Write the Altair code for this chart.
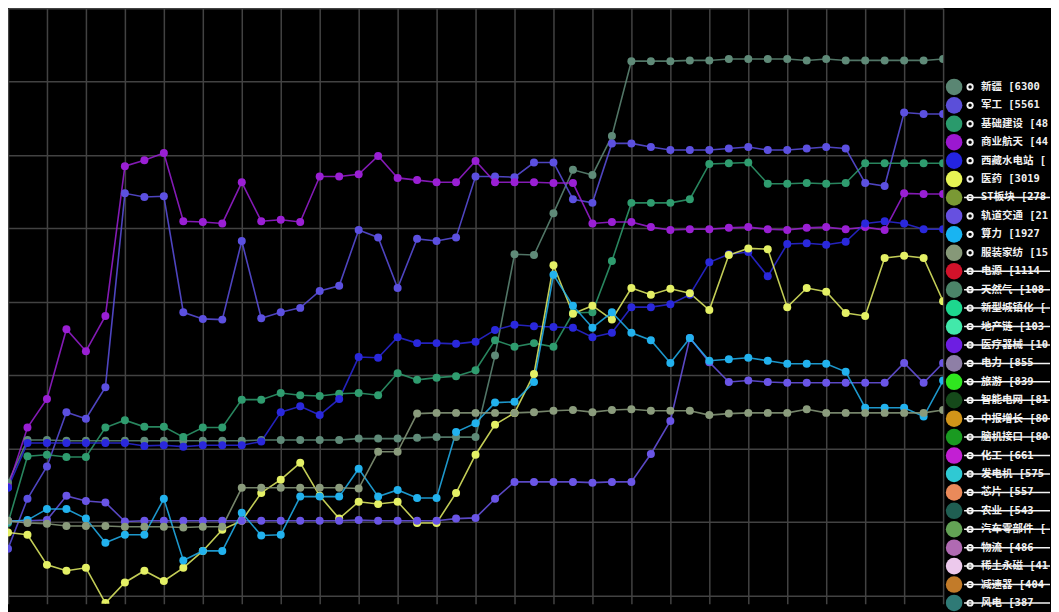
import altair as alt
import pandas as pd

days = list(range(49))

xinjiang = [25.4, 31.2, 31.2, 31.1, 31.1, 31.1, 31.1, 31.1, 31.1, 31.1, 31.1, 31.1, 31.1,
            31.2, 31.2, 31.2, 31.2, 31.2, 31.4, 31.4, 31.4, 31.5, 31.6, 31.6, 31.6, 42.7,
            56.5, 56.4, 62.1, 68.0, 67.3, 72.6, 82.8, 82.8, 82.8, 82.9, 82.9, 83.1, 83.1,
            83.1, 83.1, 82.9, 83.1, 82.9, 82.9, 82.9, 82.9, 82.9, 83.1]
jungong = [16.4, 23.2, 27.6, 35.0, 34.1, 38.4, 64.8, 64.3, 64.4, 48.6, 47.7, 47.6, 58.3,
           47.8, 48.6, 49.2, 51.5, 52.2, 59.8, 58.8, 51.9, 58.6, 58.3, 58.8, 67.1, 67.1,
           67.0, 69.0, 69.0, 64.0, 63.5, 71.6, 71.6, 71.1, 70.7, 70.7, 70.7, 70.9, 71.1,
           70.7, 70.7, 70.9, 71.1, 70.9, 66.2, 65.8, 75.8, 75.6, 75.6]
jichu = [19.9, 29.0, 29.2, 28.9, 28.9, 32.9, 33.9, 33.0, 33.0, 31.6, 32.9, 32.9, 36.7,
         36.7, 37.6, 37.3, 37.2, 37.5, 37.6, 37.3, 40.3, 39.4, 39.7, 39.9, 40.7, 44.8,
         43.9, 44.4, 43.9, 48.5, 48.6, 55.6, 63.5, 63.5, 63.5, 64.0, 68.8, 68.9, 69.0,
         66.1, 66.1, 66.2, 66.1, 66.2, 68.9, 68.9, 68.9, 68.9, 68.9]
hangtian = [24.8, 32.9, 36.8, 46.3, 43.3, 48.1, 68.5, 69.3, 70.3, 61.0, 60.9, 60.7, 66.3,
            61.0, 61.2, 60.9, 67.1, 67.1, 67.4, 69.9, 66.9, 66.6, 66.3, 66.3, 69.2, 66.3,
            66.3, 66.3, 66.2, 66.2, 60.7, 60.9, 60.9, 60.2, 59.8, 59.9, 59.9, 60.1, 60.2,
            59.9, 59.8, 60.1, 60.2, 59.9, 60.2, 59.8, 64.8, 64.7, 64.7]
xizang = [24.7, 30.8, 30.8, 30.8, 30.8, 30.8, 30.8, 30.4, 30.5, 30.3, 30.5, 30.5, 30.5,
          31.0, 35.0, 35.8, 34.6, 36.8, 42.5, 42.4, 45.2, 44.4, 44.4, 44.3, 44.6, 46.2,
          46.9, 46.7, 46.6, 46.5, 45.2, 45.8, 49.3, 49.3, 49.7, 51.0, 55.4, 56.5, 56.8,
          53.5, 57.9, 58.0, 57.8, 58.2, 60.7, 61.0, 60.7, 59.9, 59.9]
yiyao = [18.6, 18.3, 14.2, 13.4, 13.8, 9.0, 11.8, 13.4, 12.0, 13.8, 16.1, 19.0, 20.2,
         24.0, 25.8, 28.1, 23.6, 20.5, 22.8, 22.5, 22.8, 19.9, 19.9, 24.0, 29.2, 33.3,
         34.9, 40.2, 55.0, 48.4, 49.5, 47.6, 51.9, 51.0, 51.8, 51.2, 48.9, 56.4, 57.3,
         57.2, 49.3, 51.9, 51.4, 48.5, 48.1, 56.0, 56.3, 56.0, 50.1]
guidao = [20.2, 20.2, 20.3, 23.6, 22.9, 22.7, 20.1, 20.2, 20.2, 20.2, 20.2, 20.2, 20.2,
          20.2, 20.2, 20.2, 20.2, 20.2, 20.3, 20.2, 20.2, 20.2, 20.2, 20.5, 20.6, 23.2,
          25.5, 25.5, 25.5, 25.5, 25.4, 25.5, 25.5, 29.3, 33.8, 45.1, 41.8, 39.1, 39.3,
          39.1, 39.0, 39.0, 39.0, 39.0, 39.0, 39.0, 41.7, 39.0, 41.7]
suanli = [20.1, 20.3, 21.8, 21.8, 20.5, 17.2, 18.3, 18.3, 23.2, 14.8, 16.1, 16.1, 21.3,
          18.2, 18.3, 23.5, 23.5, 23.5, 27.3, 23.5, 24.4, 23.3, 23.3, 32.3, 33.5, 36.3,
          36.4, 39.1, 53.7, 49.5, 46.5, 48.6, 45.8, 44.8, 41.7, 45.1, 42.0, 42.2, 42.4,
          42.0, 41.6, 41.6, 41.6, 40.5, 35.6, 35.6, 35.6, 34.4, 39.3]
fuzhuang = [20.2, 19.9, 19.8, 19.5, 19.5, 19.5, 19.4, 19.4, 19.4, 19.3, 19.4, 19.4, 24.7,
            24.7, 24.7, 24.7, 24.7, 24.7, 24.6, 29.6, 29.6, 34.8, 34.9, 34.9, 34.9, 34.9,
            34.9, 35.0, 35.2, 35.3, 35.0, 35.3, 35.4, 35.2, 35.2, 35.2, 34.6, 34.8, 34.9,
            34.9, 34.9, 35.4, 34.9, 34.9, 34.9, 34.9, 34.9, 34.9, 35.3]

series_names = ["新疆", "军工", "基础建设", "商业航天", "西藏水电站", "医药", "轨道交通", "算力", "服装家纺"]
series_values = [xinjiang, jungong, jichu, hangtian, xizang, yiyao, guidao, suanli, fuzhuang]
series_colors = ["#5f8a78", "#5c50e0", "#2f9c6f", "#9a1fd4", "#2a28dc", "#e4f065", "#6a55e6", "#22b2ee", "#8a9b7c"]

legend_names = ["新疆", "军工", "基础建设", "商业航天", "西藏水电站", "医药", "ST板块", "轨道交通", "算力",
                "服装家纺", "电源", "天然气", "新型城镇化", "地产链", "医疗器械", "电力", "旅游", "智能电网",
                "中报增长", "脑机接口", "化工", "发电机", "芯片", "农业", "汽车零部件", "物流", "稀土永磁",
                "减速器", "风电"]
legend_counts = [6300, 5561, 4887, 4465, 3952, 3019, 2787, 2159, 1927, 1525, 1114, 1085, 1062,
                 1039, 1024, 855, 839, 816, 809, 806, 661, 575, 557, 543, 512, 486, 418, 404, 387]
legend_colors = ["#5a8673", "#5b4fd9", "#2a9a6c", "#9b18d0", "#2424e0", "#e6f454", "#7a9934",
                 "#6650e0", "#18b4f2", "#869878", "#d2122a", "#4b8468", "#1dd78e", "#42e8aa",
                 "#6d1ee2", "#8e7fa6", "#2fe61f", "#15491a", "#d19419", "#1a9a21", "#c21fd3",
                 "#2fc9d3", "#ea8a5a", "#1f5e52", "#63a255", "#b06ab2", "#ecc9ec", "#c27b29",
                 "#2f7a76"]
legend_hidden = [False] * 6 + [True] + [False] * 3 + [True] * 19

rows = []
for name, vals in zip(series_names, series_values):
    assert len(vals) == len(days), name
    for d, v in zip(days, vals):
        rows.append({"day": d, "value": v, "sector": name})
df = pd.DataFrame(rows)

leg = pd.DataFrame({
    "order": list(range(len(legend_names))),
    "label": [f"{n} [{c} 涨停]" for n, c in zip(legend_names, legend_counts)],
    "color": legend_colors,
    "hidden": legend_hidden,
})

x = alt.X("day:Q", scale=alt.Scale(domain=[0, 48], nice=False, zero=False),
          axis=alt.Axis(values=list(range(0, 49, 2)), labels=False, ticks=False, domain=False,
                        title=None, grid=True, minExtent=0, maxExtent=0))
y = alt.Y("value:Q", scale=alt.Scale(domain=[8.91, 90], nice=False, zero=False),
          axis=alt.Axis(values=list(range(10, 91, 10)), labels=False, ticks=False, domain=False,
                        title=None, grid=True, minExtent=0, maxExtent=0))
color = alt.Color("sector:N", scale=alt.Scale(domain=series_names, range=series_colors), legend=None)

base = alt.Chart(df).encode(x=x, y=y, color=color)
lines = base.mark_line(strokeWidth=1.6, opacity=0.85, clip=True)
points = base.mark_circle(size=64, opacity=1, clip=True)
main = alt.layer(lines, points).properties(width=936, height=596)

ly = alt.Y("order:Q", scale=alt.Scale(domain=[-4.266, 28.04], reverse=True, nice=False, zero=False), axis=None)
lbase = alt.Chart(leg)
dots = lbase.mark_circle(size=275, opacity=1).encode(
    x=alt.value(11), y=ly, color=alt.Color("color:N", scale=None))
icon_out = lbase.mark_circle(size=52, opacity=1, color="#f4f4f4").encode(x=alt.value(27), y=ly)
icon_in = lbase.mark_circle(size=12, opacity=1, color="#000000").encode(x=alt.value(27), y=ly)
texts = lbase.mark_text(align="left", baseline="middle", font="'DejaVu Sans Mono', 'Noto Sans CJK SC'",
                        fontSize=10.5, fontWeight="bold", color="#f2f2f2", limit=69,
                        ellipsis="\u200b").encode(x=alt.value(38), y=ly, text="label:N")
strike = lbase.transform_filter("datum.hidden").mark_rule(color="#f4f4f4", strokeWidth=1.5).encode(
    x=alt.value(21), x2=alt.value(107), y=ly)
legend = alt.layer(dots, icon_out, icon_in, texts, strike).properties(width=107, height=596)

chart = alt.hconcat(main, legend, spacing=0, padding=0, background="#000000",
                    usermeta={"embedOptions": {"defaultStyle": "html,body{background:#000000;}"}}
                    ).configure_axis(
    gridColor="#424242", gridWidth=1.5, gridOpacity=1
).configure_view(strokeWidth=0)

chart.save("out.html", embed_options={"renderer": "svg", "actions": False})
